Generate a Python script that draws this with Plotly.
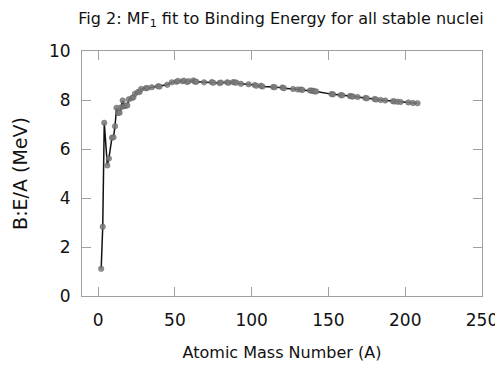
import plotly.graph_objects as go

# Mass number A of stable nuclei (selection) and binding energy per nucleon (MeV)
mass_number = [2, 3, 4, 6, 7, 9, 10, 11, 12, 13, 14, 15, 16, 17, 18, 19, 20, 22, 23, 24,
               26, 27, 28, 31, 32, 35, 39, 40, 45, 48, 51, 52, 55, 56, 58, 59, 62, 63, 64,
               69, 74, 75, 79, 80, 84, 85, 88, 89, 90, 93, 98, 102, 103, 106, 107, 114,
               115, 120, 121, 127, 130, 132, 133, 138, 139, 140, 141, 142, 152, 153, 158,
               159, 164, 165, 166, 169, 174, 175, 180, 181, 184, 187, 192, 193, 195, 197,
               202, 205, 208]
binding_per_nucleon = [1.11, 2.83, 7.07, 5.33, 5.61, 6.46, 6.48, 6.93, 7.68, 7.47, 7.48, 7.70,
                       7.98, 7.75, 7.77, 7.78, 8.03, 8.08, 8.11, 8.26, 8.33, 8.33, 8.45, 8.48,
                       8.49, 8.52, 8.56, 8.55, 8.62, 8.72, 8.74, 8.78, 8.77, 8.79, 8.73, 8.77,
                       8.80, 8.75, 8.74, 8.72, 8.73, 8.70, 8.69, 8.71, 8.72, 8.70, 8.73, 8.71,
                       8.71, 8.66, 8.64, 8.61, 8.58, 8.58, 8.55, 8.53, 8.52, 8.51, 8.48, 8.45,
                       8.43, 8.43, 8.41, 8.39, 8.38, 8.38, 8.35, 8.35, 8.24, 8.23, 8.20, 8.19,
                       8.16, 8.15, 8.14, 8.12, 8.08, 8.07, 8.04, 8.02, 8.00, 7.98, 7.95, 7.94,
                       7.93, 7.92, 7.90, 7.88, 7.87]

x_ticks = [0, 50, 100, 150, 200, 250]
y_ticks = [0, 2, 4, 6, 8, 10]

fig = go.Figure()
fig.add_trace(go.Scatter(
    x=mass_number, y=binding_per_nucleon, mode="lines+markers",
    line=dict(color="#111111", width=1.5),
    marker=dict(color="rgba(125,125,125,0.85)", size=5.5,
                line=dict(color="rgba(90,90,90,0.9)", width=0.5)),
    showlegend=False, cliponaxis=False,
))

axis_common = dict(
    showgrid=False, zeroline=False, showline=True, linecolor="#a0a0a0", linewidth=1,
    mirror="ticks", ticks="inside", ticklen=9, tickcolor="#a0a0a0", tickwidth=1,
    automargin=False,
    tickfont=dict(family="DejaVu Sans", size=17, color="#111111"),
)

# the page body has an 8px margin, so the figure is sized to fit the window
fig.update_layout(
    width=495, height=359,
    margin=dict(l=74, r=21, t=43, b=71, autoexpand=False),
    paper_bgcolor="white", plot_bgcolor="white",
    title=dict(text="Fig 2: MF<sub>1</sub> fit to Binding Energy for all stable nuclei",
               x=0.5515, xanchor="center", y=0.971, yanchor="middle",
               font=dict(family="DejaVu Sans", size=16, color="#111111")),
    xaxis=dict(range=[-10.5, 250], tickvals=x_ticks, ticklabelstandoff=9,
               title=dict(text="Atomic Mass Number (A)", standoff=17,
                          font=dict(family="DejaVu Sans", size=16, color="#111111")),
               **axis_common),
    yaxis=dict(range=[0, 10], tickvals=y_ticks, ticklabelstandoff=7,
               title=dict(text="B:E/A (MeV)", standoff=16,
                          font=dict(family="DejaVu Sans", size=19, color="#111111")),
               **axis_common),
)

fig.write_html("out.html")
